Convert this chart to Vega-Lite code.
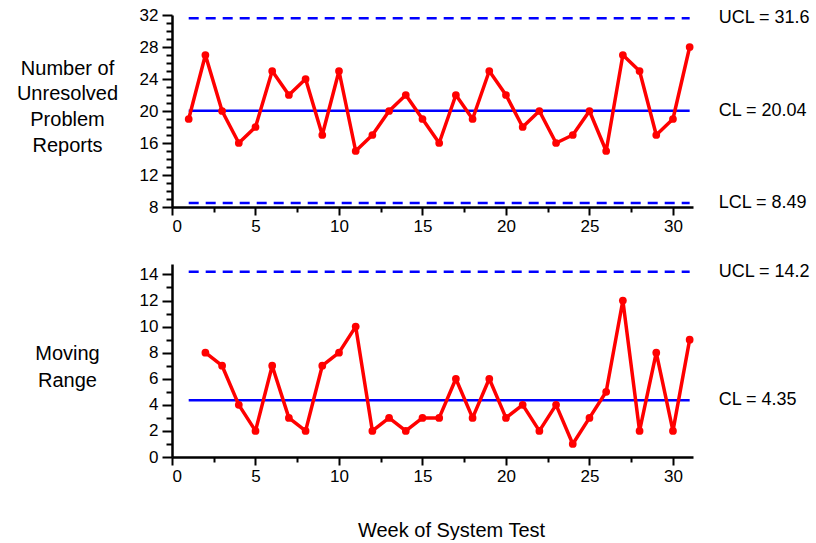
{
  "$schema": "https://vega.github.io/schema/vega-lite/v6.json",
  "padding": {"left": 16, "top": 6, "right": 2, "bottom": 0},
  "background": "white",
  "spacing": 28,
  "config": {
    "view": {"stroke": null},
    "font": "Liberation Sans",
    "axis": {
      "grid": false,
      "domainColor": "black",
      "domainWidth": 2.5,
      "tickColor": "black",
      "tickWidth": 2,
      "labelColor": "black",
      "labelFont": "Liberation Sans",
      "labelFontSize": 17,
      "labelOverlap": false,
      "titleFont": "Liberation Sans",
      "titleFontSize": 20,
      "titleFontWeight": "normal",
      "titleColor": "black"
    }
  },
  "datasets": {
    "weeks": [
      {"week": 1, "count": 19, "mr": null},
      {"week": 2, "count": 27, "mr": 8},
      {"week": 3, "count": 20, "mr": 7},
      {"week": 4, "count": 16, "mr": 4},
      {"week": 5, "count": 18, "mr": 2},
      {"week": 6, "count": 25, "mr": 7},
      {"week": 7, "count": 22, "mr": 3},
      {"week": 8, "count": 24, "mr": 2},
      {"week": 9, "count": 17, "mr": 7},
      {"week": 10, "count": 25, "mr": 8},
      {"week": 11, "count": 15, "mr": 10},
      {"week": 12, "count": 17, "mr": 2},
      {"week": 13, "count": 20, "mr": 3},
      {"week": 14, "count": 22, "mr": 2},
      {"week": 15, "count": 19, "mr": 3},
      {"week": 16, "count": 16, "mr": 3},
      {"week": 17, "count": 22, "mr": 6},
      {"week": 18, "count": 19, "mr": 3},
      {"week": 19, "count": 25, "mr": 6},
      {"week": 20, "count": 22, "mr": 3},
      {"week": 21, "count": 18, "mr": 4},
      {"week": 22, "count": 20, "mr": 2},
      {"week": 23, "count": 16, "mr": 4},
      {"week": 24, "count": 17, "mr": 1},
      {"week": 25, "count": 20, "mr": 3},
      {"week": 26, "count": 15, "mr": 5},
      {"week": 27, "count": 27, "mr": 12},
      {"week": 28, "count": 25, "mr": 2},
      {"week": 29, "count": 17, "mr": 8},
      {"week": 30, "count": 19, "mr": 2},
      {"week": 31, "count": 28, "mr": 9}
    ],
    "limitsTop": [
      {"kind": "UCL", "value": 31.6, "start": 1, "end": 31, "label": "UCL = 31.6"},
      {"kind": "CL", "value": 20.04, "start": 1, "end": 31, "label": "CL = 20.04"},
      {"kind": "LCL", "value": 8.49, "start": 1, "end": 31, "label": "LCL = 8.49"}
    ],
    "limitsBottom": [
      {"kind": "UCL", "value": 14.2, "start": 1, "end": 31, "label": "UCL = 14.2"},
      {"kind": "CL", "value": 4.35, "start": 1, "end": 31, "label": "CL = 4.35"}
    ]
  },
  "vconcat": [
    {
      "width": 521,
      "height": 192,
      "layer": [
        {
          "data": {"name": "limitsTop"},
          "mark": {"type": "rule", "color": "#0000ff", "strokeWidth": 2.5},
          "encoding": {
            "x": {"field": "start", "type": "quantitative",
              "scale": {"domain": [0, 31.2], "nice": false, "zero": false},
              "axis": {
                "values": [0, 2.5, 5, 7.5, 10, 12.5, 15, 17.5, 20, 22.5, 25, 27.5, 30],
                "tickCount": 40,
                "format": "d",
                "labelExpr": "datum.value % 5 === 0 ? datum.label : ''",
                "tickSize": {"condition": {"test": "datum.value % 5 === 0", "value": 8}, "value": 5},
                "labelPadding": 3,
                "title": null
              }},
            "x2": {"field": "end"},
            "y": {"field": "value", "type": "quantitative",
              "scale": {"domain": [8, 32], "nice": false, "zero": false},
              "axis": {
                "values": [8, 9, 10, 11, 12, 13, 14, 15, 16, 17, 18, 19, 20, 21, 22, 23, 24, 25, 26, 27, 28, 29, 30, 31, 32],
                "tickCount": 40,
                "format": "d",
                "labelExpr": "datum.value % 4 === 0 ? datum.label : ''",
                "tickSize": {"condition": {"test": "datum.value % 4 === 0", "value": 10}, "value": 6},
                "labelPadding": 4,
                "title": ["Number of", "Unresolved", "Problem", "Reports"],
                "titleAngle": 0,
                "titleAlign": "center",
                "titleBaseline": "middle",
                "titleLineHeight": 25.7,
                "titleX": -105,
                "titleY": 53
              }},
            "strokeDash": {"field": "kind", "type": "nominal",
              "scale": {"domain": ["UCL", "CL", "LCL"], "range": [[10, 7], [1, 0], [10, 7]]},
              "legend": null}
          }
        },
        {
          "data": {"name": "limitsTop"},
          "mark": {"type": "text", "align": "left", "baseline": "middle", "dx": 29, "fontSize": 18, "font": "Liberation Sans", "color": "black"},
          "encoding": {
            "x": {"field": "end", "type": "quantitative"},
            "y": {"field": "value", "type": "quantitative"},
            "text": {"field": "label"}
          }
        },
        {
          "data": {"name": "weeks"},
          "mark": {"type": "line", "color": "#ff0000", "strokeWidth": 3.5, "strokeJoin": "round", "strokeCap": "round"},
          "encoding": {
            "x": {"field": "week", "type": "quantitative"},
            "y": {"field": "count", "type": "quantitative"}
          }
        },
        {
          "data": {"name": "weeks"},
          "mark": {"type": "circle", "color": "#ff0000", "opacity": 1, "size": 60},
          "encoding": {
            "x": {"field": "week", "type": "quantitative"},
            "y": {"field": "count", "type": "quantitative"}
          }
        }
      ]
    },
    {
      "width": 521,
      "height": 193,
      "layer": [
        {
          "data": {"name": "limitsBottom"},
          "mark": {"type": "rule", "color": "#0000ff", "strokeWidth": 2.5},
          "encoding": {
            "x": {"field": "start", "type": "quantitative",
              "scale": {"domain": [0, 31.2], "nice": false, "zero": false},
              "axis": {
                "values": [0, 2.5, 5, 7.5, 10, 12.5, 15, 17.5, 20, 22.5, 25, 27.5, 30],
                "tickCount": 40,
                "format": "d",
                "labelExpr": "datum.value % 5 === 0 ? datum.label : ''",
                "tickSize": {"condition": {"test": "datum.value % 5 === 0", "value": 8}, "value": 5},
                "labelPadding": 3,
                "title": "Week of System Test",
                "titleAlign": "center",
                "titleBaseline": "alphabetic",
                "titleX": 279,
                "titleY": 79
              }},
            "x2": {"field": "end"},
            "y": {"field": "value", "type": "quantitative",
              "scale": {"domain": [0, 14.8], "nice": false, "zero": false},
              "axis": {
                "values": [0, 1, 2, 3, 4, 5, 6, 7, 8, 9, 10, 11, 12, 13, 14],
                "tickCount": 40,
                "format": "d",
                "labelExpr": "datum.value % 2 === 0 ? datum.label : ''",
                "tickSize": {"condition": {"test": "datum.value % 2 === 0", "value": 10}, "value": 6},
                "labelPadding": 4,
                "title": ["Moving", "Range"],
                "titleAngle": 0,
                "titleAlign": "center",
                "titleBaseline": "middle",
                "titleLineHeight": 27,
                "titleX": -105,
                "titleY": 89
              }},
            "strokeDash": {"field": "kind", "type": "nominal",
              "scale": {"domain": ["UCL", "CL"], "range": [[10, 7], [1, 0]]},
              "legend": null}
          }
        },
        {
          "data": {"name": "limitsBottom"},
          "mark": {"type": "text", "align": "left", "baseline": "middle", "dx": 29, "fontSize": 18, "font": "Liberation Sans", "color": "black"},
          "encoding": {
            "x": {"field": "end", "type": "quantitative"},
            "y": {"field": "value", "type": "quantitative"},
            "text": {"field": "label"}
          }
        },
        {
          "data": {"name": "weeks"},
          "transform": [{"filter": "isValid(datum.mr)"}],
          "mark": {"type": "line", "color": "#ff0000", "strokeWidth": 3.5, "strokeJoin": "round", "strokeCap": "round"},
          "encoding": {
            "x": {"field": "week", "type": "quantitative"},
            "y": {"field": "mr", "type": "quantitative"}
          }
        },
        {
          "data": {"name": "weeks"},
          "transform": [{"filter": "isValid(datum.mr)"}],
          "mark": {"type": "circle", "color": "#ff0000", "opacity": 1, "size": 60},
          "encoding": {
            "x": {"field": "week", "type": "quantitative"},
            "y": {"field": "mr", "type": "quantitative"}
          }
        }
      ]
    }
  ]
}
